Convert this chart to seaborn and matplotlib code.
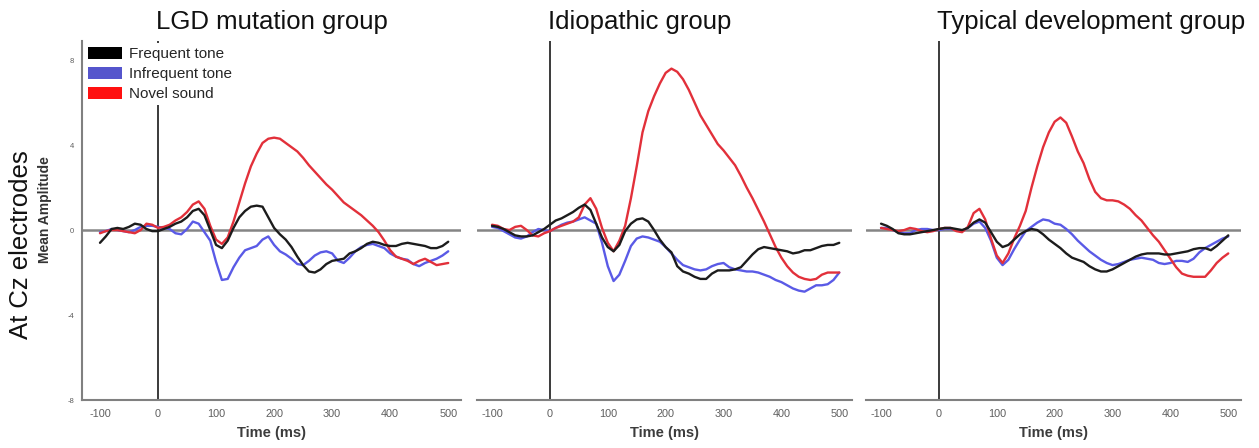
import matplotlib
matplotlib.use("Agg")
import matplotlib.pyplot as plt
from matplotlib.patches import Patch
from matplotlib.transforms import blended_transform_factory
import pandas as pd
import seaborn as sns

# ---- data: mean ERP amplitude at Cz, sampled every 10 ms ----
times = list(range(-100, 501, 10))
groups = ["LGD mutation group", "Idiopathic group", "Typical development group"]
stimuli = ["Frequent tone", "Infrequent tone", "Novel sound"]
x_ticks = [-100, 0, 100, 200, 300, 400, 500]
y_ticks = [-8, -4, 0, 4, 8]

lgd_frequent = [-0.6, -0.3, 0.05, 0.1, 0.05, 0.15, 0.3, 0.25, 0.05, -0.05,
                -0.05, 0.05, 0.15, 0.3, 0.4, 0.6, 0.9, 1.0, 0.7, 0.0,
                -0.7, -0.85, -0.5, 0.1, 0.6, 0.9, 1.1, 1.15, 1.1, 0.6,
                0.1, -0.2, -0.45, -0.8, -1.25, -1.65, -1.95, -2.0, -1.85, -1.6,
                -1.45, -1.4, -1.35, -1.1, -1.0, -0.85, -0.65, -0.55, -0.6, -0.7,
                -0.75, -0.75, -0.65, -0.6, -0.65, -0.7, -0.75, -0.85, -0.85, -0.75,
                -0.55]
lgd_infrequent = [-0.1, -0.05, 0.05, 0.0, -0.05, -0.1, 0.0, 0.15, 0.2, 0.2,
                  0.15, 0.1, 0.05, -0.15, -0.2, 0.05, 0.4, 0.3, -0.1, -0.5,
                  -1.5, -2.35, -2.3, -1.75, -1.3, -0.95, -0.85, -0.75, -0.45, -0.3,
                  -0.7, -1.0, -1.15, -1.35, -1.6, -1.65, -1.45, -1.2, -1.05, -1.0,
                  -1.1, -1.45, -1.55, -1.3, -1.0, -0.8, -0.7, -0.65, -0.75, -0.85,
                  -1.1, -1.25, -1.35, -1.4, -1.6, -1.7, -1.55, -1.45, -1.35, -1.2,
                  -1.0]
lgd_novel = [-0.15, -0.05, 0.0, 0.0, -0.05, -0.1, -0.15, 0.0, 0.3, 0.25,
             0.1, 0.15, 0.25, 0.45, 0.6, 0.85, 1.2, 1.35, 1.0, 0.2,
             -0.45, -0.65, -0.35, 0.4, 1.3, 2.2, 3.0, 3.6, 4.1, 4.3,
             4.35, 4.3, 4.1, 3.9, 3.7, 3.4, 3.05, 2.75, 2.45, 2.15,
             1.9, 1.6, 1.3, 1.1, 0.9, 0.7, 0.45, 0.2, -0.1, -0.5,
             -0.95, -1.25, -1.35, -1.45, -1.6, -1.45, -1.35, -1.5, -1.65, -1.6,
             -1.55]

idio_frequent = [0.2, 0.15, 0.05, -0.1, -0.25, -0.3, -0.3, -0.25, -0.1, 0.05,
                 0.25, 0.45, 0.55, 0.7, 0.85, 1.05, 1.2, 0.95, 0.3, -0.35,
                 -0.8, -1.0, -0.7, -0.05, 0.3, 0.5, 0.55, 0.4, 0.0, -0.45,
                 -0.8, -1.05, -1.7, -1.95, -2.05, -2.2, -2.3, -2.3, -2.05, -1.9,
                 -1.9, -1.9, -1.85, -1.75, -1.45, -1.15, -0.9, -0.8, -0.85, -0.9,
                 -0.95, -1.0, -1.1, -1.05, -0.95, -0.95, -0.85, -0.75, -0.7, -0.7,
                 -0.6]
idio_infrequent = [0.15, 0.1, -0.05, -0.2, -0.35, -0.4, -0.3, -0.1, 0.05, 0.0,
                   -0.05, 0.1, 0.25, 0.35, 0.4, 0.5, 0.6, 0.45, 0.3, -0.6,
                   -1.7, -2.4, -2.1, -1.45, -0.75, -0.4, -0.3, -0.35, -0.45, -0.55,
                   -0.8, -1.1, -1.4, -1.65, -1.75, -1.85, -1.9, -1.85, -1.7, -1.6,
                   -1.55, -1.75, -1.85, -1.9, -1.95, -1.95, -2.0, -2.1, -2.2, -2.35,
                   -2.45, -2.6, -2.75, -2.85, -2.9, -2.75, -2.6, -2.6, -2.55, -2.35,
                   -2.0]
idio_novel = [0.25, 0.2, 0.05, 0.0, 0.15, 0.2, 0.0, -0.25, -0.3, -0.15,
              -0.05, 0.1, 0.2, 0.3, 0.4, 0.6, 1.2, 1.5, 1.0, 0.1,
              -0.6, -1.0, -0.5, 0.2, 1.5, 3.0, 4.6, 5.6, 6.3, 6.9,
              7.4, 7.6, 7.45, 7.1, 6.6, 6.0, 5.4, 4.95, 4.5, 4.05,
              3.75, 3.4, 3.05, 2.55, 2.0, 1.5, 0.95, 0.4, -0.2, -0.8,
              -1.3, -1.7, -2.0, -2.2, -2.3, -2.35, -2.3, -2.1, -2.0, -2.0,
              -2.0]

td_frequent = [0.3, 0.2, 0.05, -0.15, -0.2, -0.2, -0.15, -0.1, -0.05, 0.0,
               0.05, 0.1, 0.1, 0.05, 0.0, 0.1, 0.35, 0.5, 0.35, -0.1,
               -0.55, -0.8, -0.7, -0.45, -0.2, -0.05, 0.05, 0.0, -0.2, -0.45,
               -0.65, -0.85, -1.1, -1.3, -1.4, -1.5, -1.7, -1.85, -1.95, -1.95,
               -1.85, -1.7, -1.55, -1.4, -1.25, -1.15, -1.1, -1.1, -1.1, -1.15,
               -1.15, -1.1, -1.05, -1.0, -0.9, -0.85, -0.85, -0.95, -0.75, -0.5,
               -0.25]
td_infrequent = [0.1, 0.1, 0.0, -0.1, -0.15, -0.15, 0.0, 0.05, 0.05, 0.0,
                 0.0, 0.05, 0.05, 0.0, -0.05, 0.1, 0.3, 0.4, 0.1, -0.5,
                 -1.3, -1.65, -1.4, -0.9, -0.45, -0.05, 0.15, 0.35, 0.5, 0.45,
                 0.3, 0.25, 0.05, -0.2, -0.5, -0.75, -1.0, -1.2, -1.4, -1.55,
                 -1.65, -1.6, -1.5, -1.4, -1.35, -1.3, -1.35, -1.4, -1.55, -1.6,
                 -1.55, -1.45, -1.45, -1.5, -1.35, -1.05, -0.85, -0.7, -0.55, -0.4,
                 -0.3]
td_novel = [0.1, 0.05, 0.0, -0.05, 0.0, 0.1, 0.05, -0.05, -0.1, -0.05,
            0.05, 0.1, 0.1, -0.05, -0.1, 0.15, 0.8, 1.0, 0.5, -0.4,
            -1.2, -1.55, -1.1, -0.4, 0.2, 0.9, 2.0, 3.0, 3.9, 4.6,
            5.1, 5.3, 5.05, 4.4, 3.7, 3.15, 2.4, 1.8, 1.5, 1.4,
            1.4, 1.35, 1.2, 1.0, 0.7, 0.45, 0.1, -0.25, -0.55, -0.95,
            -1.35, -1.75, -2.05, -2.15, -2.2, -2.2, -2.2, -1.9, -1.55, -1.3,
            -1.1]

series = {
    groups[0]: [lgd_frequent, lgd_infrequent, lgd_novel],
    groups[1]: [idio_frequent, idio_infrequent, idio_novel],
    groups[2]: [td_frequent, td_infrequent, td_novel],
}

rows = []
for g, vals in series.items():
    for stim, v in zip(stimuli, vals):
        for t, a in zip(times, v):
            rows.append({"group": g, "stimulus": stim, "time": t, "amplitude": a})
df = pd.DataFrame(rows)

line_colors = {"Frequent tone": "#1c1c1c", "Infrequent tone": "#5a5ae6",
               "Novel sound": "#e2303a"}
legend_colors = {"Frequent tone": "#000000", "Infrequent tone": "#5555cc",
                 "Novel sound": "#ff1010"}

sns.set_style("white")
plt.rcParams["font.family"] = ["Liberation Sans", "DejaVu Sans"]

W, H = 1259, 448
fig = plt.figure(figsize=(W / 100, H / 100), dpi=100)

# panel extents in pixels: (left, right), shared top/bottom
panel_px = [(82, 461), (477, 852), (866, 1241)]
top_px, bottom_px = 41, 400
xlims = [(-131, 522), (-126, 522), (-126, 522)]

spine_gray = "#808080"
for i, g in enumerate(groups):
    l, r = panel_px[i]
    ax = fig.add_axes([l / W, 1 - bottom_px / H, (r - l) / W, (bottom_px - top_px) / H])
    ax.axhline(0, color="#858585", lw=1.8, zorder=1)
    ax.axvline(0, color="#3a3a3a", lw=1.4, zorder=1)
    sub = df[df["group"] == g]
    sns.lineplot(data=sub, x="time", y="amplitude", hue="stimulus",
                 hue_order=["Infrequent tone", "Novel sound", "Frequent tone"],
                 palette=line_colors, errorbar=None, legend=False,
                 lw=1.7, ax=ax, zorder=3)
    for ln in ax.lines[2:]:
        ln.set_solid_joinstyle("round")
        ln.set_solid_capstyle("round")
    ax.set_xlim(*xlims[i])
    ax.set_ylim(-8, 8.9)
    ax.set_xticks(x_ticks)
    ax.set_xticklabels([str(t) for t in x_ticks])
    ax.tick_params(axis="x", direction="out", length=4, width=1.2, color=spine_gray,
                   labelsize=7.8, labelcolor="#5e5e5e", pad=2.5)
    ax.set_xlabel("Time (ms)", fontsize=10.5, fontweight="bold", color="#3c3c3c", labelpad=5)
    ax.set_ylabel("")
    for s in ("top", "right"):
        ax.spines[s].set_visible(False)
    ax.spines["bottom"].set_color(spine_gray)
    ax.spines["bottom"].set_linewidth(1.5)
    if i == 0:
        ax.set_yticks(y_ticks)
        ax.set_yticklabels([str(t) for t in y_ticks])
        ax.tick_params(axis="y", direction="out", length=4, width=1.0, color=spine_gray,
                       labelsize=5.5, labelcolor="#5e5e5e", pad=1.5)
        ax.spines["left"].set_color(spine_gray)
        ax.spines["left"].set_linewidth(1.5)
        handles = [Patch(facecolor=legend_colors[s], edgecolor="none", label=s) for s in stimuli]
        leg = ax.legend(handles=handles, loc="upper left", fontsize=11,
                        handlelength=2.2, handleheight=0.8, handletextpad=0.5,
                        labelspacing=0.38, borderpad=0.25, borderaxespad=0.15,
                        frameon=True, fancybox=False, framealpha=1.0,
                        facecolor="white", edgecolor="none")
        leg.set_zorder(5)
    else:
        ax.spines["left"].set_visible(False)
        ax.set_yticks([])
    tr = blended_transform_factory(ax.transData, ax.transAxes)
    ax.text(-3, 1.033, g, transform=tr, ha="left", va="baseline", fontsize=18.5,
            color="#111111")

fig.text(21 / W, 1 - 245 / H, "At Cz electrodes", rotation=90, ha="center", va="center",
         fontsize=18.5, color="#111111")
fig.text(45 / W, 1 - 210 / H, "Mean Amplitude", rotation=90, ha="center", va="center",
         fontsize=10, fontweight="bold", color="#333333")

fig.savefig("out.png", dpi=100)
